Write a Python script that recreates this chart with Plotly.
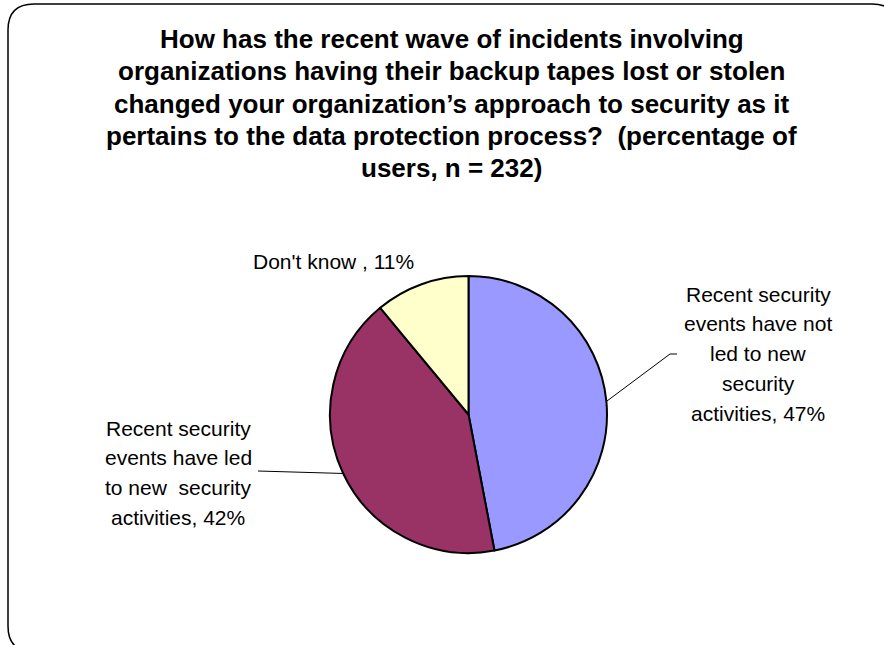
import math
import plotly.graph_objects as go

# ---- data ----
labels = [
    "Recent security events have not led to new security activities",
    "Recent security events have led to new security activities",
    "Don't know",
]
values = [47, 42, 11]
colors = ["#9999FF", "#993366", "#FFFFCC"]
label_lines = [
    ["Recent security", "events have not", "led to new", "security", "activities, 47%"],
    ["Recent security", "events have led", "to new  security", "activities, 42%"],
    ["Don't know , 11%"],
]
title_lines = [
    "How has the recent wave of incidents involving",
    "organizations having their backup tapes lost or stolen",
    "changed your organization\u2019s approach to security as it",
    "pertains to the data protection process?  (percentage of",
    "users, n = 232)",
]

W, H = 884, 645
FONT = "Liberation Sans, Arial, sans-serif"

def px(x):
    return x / W

def py(y):
    return 1 - y / H

# pie geometry (pixels)
cx, cy, R = 468.5, 414.5, 138.5

fig = go.Figure(go.Pie(
    labels=labels,
    values=values,
    sort=False,
    direction="clockwise",
    rotation=0,
    textinfo="none",
    hoverinfo="label+percent",
    marker=dict(colors=colors, line=dict(color="#000000", width=2)),
    domain=dict(x=[px(cx - R), px(cx + R)], y=[py(cy + R), py(cy - R)]),
    showlegend=False,
))

# label placement (pixels: center x, first line center y, line step)
label_pos = [(758, 294, 29.8), (178, 428, 29.7), (333, 261, 0)]
total = sum(values)
cum = 0
shapes = []
annotations = []
for i, v in enumerate(values):
    mid = (cum + v / 2) / total * 2 * math.pi
    cum += v
    ex = cx + R * math.sin(mid)
    ey = cy - R * math.cos(mid)
    lx, ly, step = label_pos[i]
    for k, line in enumerate(label_lines[i]):
        annotations.append(dict(
            x=px(lx), y=py(ly + k * step), xref="paper", yref="paper",
            text=line.replace("  ", "&nbsp; "), showarrow=False, align="center",
            xanchor="center", yanchor="middle",
            font=dict(family=FONT, size=21, color="#000000"),
        ))
    if i == 0:
        path = f"M{px(ex)},{py(ey)} L{px(670)},{py(354)} L{px(677)},{py(354)}"
        shapes.append(dict(type="path", xref="paper", yref="paper", path=path,
                           line=dict(color="#000000", width=1)))
    elif i == 1:
        path = f"M{px(ex)},{py(ey)} L{px(258)},{py(471)}"
        shapes.append(dict(type="path", xref="paper", yref="paper", path=path,
                           line=dict(color="#000000", width=1)))

# rounded border
x0, y0, x1, y1, r = 8, 4, 898, 652, 26
border = (f"M{px(x0 + r)},{py(y0)} L{px(x1 - r)},{py(y0)} "
          f"Q{px(x1)},{py(y0)} {px(x1)},{py(y0 + r)} "
          f"L{px(x1)},{py(y1 - r)} Q{px(x1)},{py(y1)} {px(x1 - r)},{py(y1)} "
          f"L{px(x0 + r)},{py(y1)} Q{px(x0)},{py(y1)} {px(x0)},{py(y1 - r)} "
          f"L{px(x0)},{py(y0 + r)} Q{px(x0)},{py(y0)} {px(x0 + r)},{py(y0)} Z")
shapes.append(dict(type="path", xref="paper", yref="paper", path=border,
                   line=dict(color="#000000", width=1.5), layer="below"))

# title lines
for k, line in enumerate(title_lines):
    annotations.append(dict(
        x=px(452), y=py(39 + k * 32.3), xref="paper", yref="paper",
        text=f"<b>{line.replace('  ', '&nbsp; ')}</b>", showarrow=False,
        xanchor="center", yanchor="middle",
        font=dict(family=FONT, size=26, color="#000000"),
    ))

fig.update_layout(
    width=W, height=H,
    margin=dict(l=0, r=0, t=0, b=0),
    paper_bgcolor="#FFFFFF",
    plot_bgcolor="#FFFFFF",
    shapes=shapes,
    annotations=annotations,
)

fig.write_html("out.html", config={"displayModeBar": False},
               post_script="document.body.style.margin='0';")
